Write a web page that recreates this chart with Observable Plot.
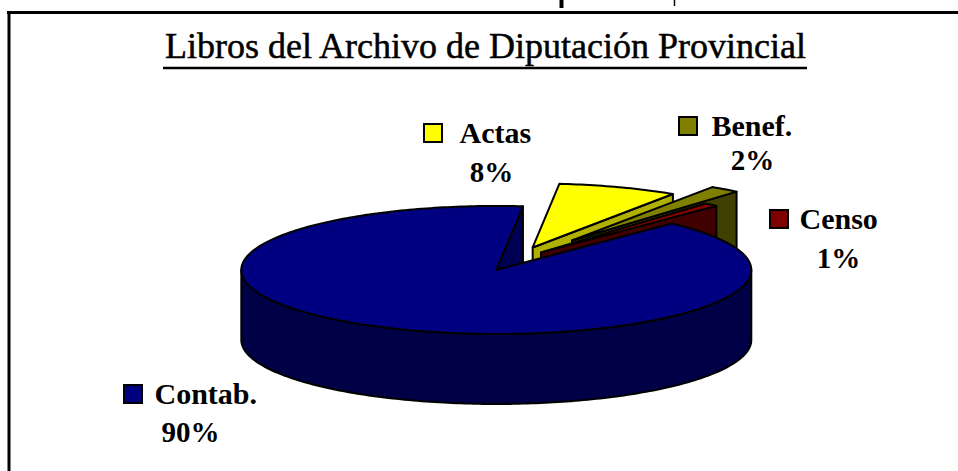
<!DOCTYPE html>
<html><head><meta charset="utf-8">
<script src="https://cdn.jsdelivr.net/npm/d3@7"></script>
<script src="https://cdn.jsdelivr.net/npm/@observablehq/plot@0.6"></script>
<style>
html,body{margin:0;padding:0;background:#fff;}
#chart svg{display:block;}
</style></head><body><div id="chart"></div>
<script>
// ---- data ----
const categories = ["Actas", "Benef.", "Censo", "Contab."];
const values = [7.6, 1.9, 0.9, 89.6];
const topColors = ["#FFFF00", "#808000", "#800000", "#000080"];
const sideColors = ["#B0B000", "#404000", "#400000", "#000046"];
const wallColors = ["#B0B000", "#404000", "#400000", "#000052"];
const titleText = "Libros del Archivo de Diputación Provincial";

// ---- layout ----
const W = 958, H = 471;
const pie = {cx: 515, cy: 259, rx: 255, ry: 64, depth: 70, startDeg: 84};
const explode = [0.2, 0.37, 0.15, 0.18];
const labelPos = [
  {sq: [433, 133], nameXY: [459, 133], pctXY: [491, 172]},
  {sq: [688, 126], nameXY: [711, 126], pctXY: [752, 160]},
  {sq: [779, 219], nameXY: [799, 219], pctXY: [838, 258]},
  {sq: [133, 394], nameXY: [154, 394], pctXY: [190, 432]}
];
const titlePos = {x: 485, y: 45.5, underlineY: 67.5, halfWidth: 322};

// ---- geometry from values ----
const total = d3.sum(values);
let acc = pie.startDeg;
const slices = values.map((v, i) => {
  const span = v / total * 360;
  const a1 = acc, a0 = acc - span;
  acc = a0;
  const m = (a0 + a1) / 2 * Math.PI / 180;
  return {i, a0, a1,
    ox: pie.cx + explode[i] * pie.rx * Math.cos(m),
    oy: pie.cy - explode[i] * pie.ry * Math.sin(m)};
});
const rad = d => d * Math.PI / 180;
const rim = (s, deg, dz = 0) => [s.ox + pie.rx * Math.cos(rad(deg)), s.oy - pie.ry * Math.sin(rad(deg)) + dz];
const arcPts = (s, d0, d1, dz = 0) => {
  const n = Math.max(2, Math.ceil(Math.abs(d1 - d0)));
  return d3.range(n + 1).map(k => rim(s, d0 + (d1 - d0) * k / n, dz));
};
const faces = [];
for (const s of slices) {
  const D = pie.depth;
  const c = [s.ox, s.oy], cb = [s.ox, s.oy + D];
  if (Math.cos(rad(s.a0)) > 0) faces.push({fill: wallColors[s.i], pts: [c, rim(s, s.a0), rim(s, s.a0, D), cb]});
  if (Math.cos(rad(s.a1)) < 0) faces.push({fill: wallColors[s.i], pts: [c, rim(s, s.a1), rim(s, s.a1, D), cb]});
  for (let k = -2; k <= 2; k++) {
    const lo = Math.max(s.a0, -180 + 360 * k), hi = Math.min(s.a1, 360 * k);
    if (hi > lo) faces.push({fill: sideColors[s.i], pts: [...arcPts(s, lo, hi), ...arcPts(s, hi, lo, D)]});
  }
  faces.push({fill: topColors[s.i], pts: [c, ...arcPts(s, s.a0, s.a1)]});
}

const labelRows = categories.map((c, i) => ({
  label: c, color: topColors[i],
  pct: Math.round(values[i] / total * 100) + "%",
  ...labelPos[i]
}));

const font = "'Liberation Serif', 'DejaVu Serif', serif";
const chart = Plot.plot({
  width: W, height: H, margin: 0,
  x: {domain: [0, W], range: [0, W], axis: null},
  y: {domain: [0, H], range: [0, H], axis: null},
  color: {type: "identity"},
  style: {background: "white"},
  marks: [
    Plot.ruleY([12], {x1: 7, x2: W, stroke: "black", strokeWidth: 3}),
    Plot.ruleX([8.5], {y1: 11, y2: H, stroke: "black", strokeWidth: 3}),
    Plot.ruleX([561], {y1: 0, y2: 8, stroke: "black", strokeWidth: 4}),
    Plot.ruleX([674], {y1: 0, y2: 6, stroke: "black", strokeWidth: 1.5}),
    ...faces.map(f => Plot.line(f.pts, {x: d => d[0], y: d => d[1], fill: f.fill, stroke: "black", strokeWidth: 2, strokeLinejoin: "round", curve: "linear-closed"})),
    Plot.rect(labelRows, {x1: d => d.sq[0] - 9, x2: d => d.sq[0] + 9, y1: d => d.sq[1] - 9, y2: d => d.sq[1] + 9, fill: "color", stroke: "black", strokeWidth: 2}),
    Plot.text(labelRows, {x: d => d.nameXY[0], y: d => d.nameXY[1], text: "label", textAnchor: "start", fontWeight: "bold", fontSize: 30, fontFamily: font, fill: "black"}),
    Plot.text(labelRows, {x: d => d.pctXY[0], y: d => d.pctXY[1], text: "pct", textAnchor: "middle", fontWeight: "bold", fontSize: 29, fontFamily: font, fill: "black"}),
    Plot.text([titleText], {x: titlePos.x, y: titlePos.y, text: d => d, textAnchor: "middle", fontSize: 36, fontFamily: font, fill: "black", stroke: "black", strokeWidth: 0.5}),
    Plot.ruleY([titlePos.underlineY], {x1: titlePos.x - titlePos.halfWidth, x2: titlePos.x + titlePos.halfWidth, stroke: "black", strokeWidth: 2.5})
  ]
});
document.getElementById("chart").append(chart);
</script></body></html>
